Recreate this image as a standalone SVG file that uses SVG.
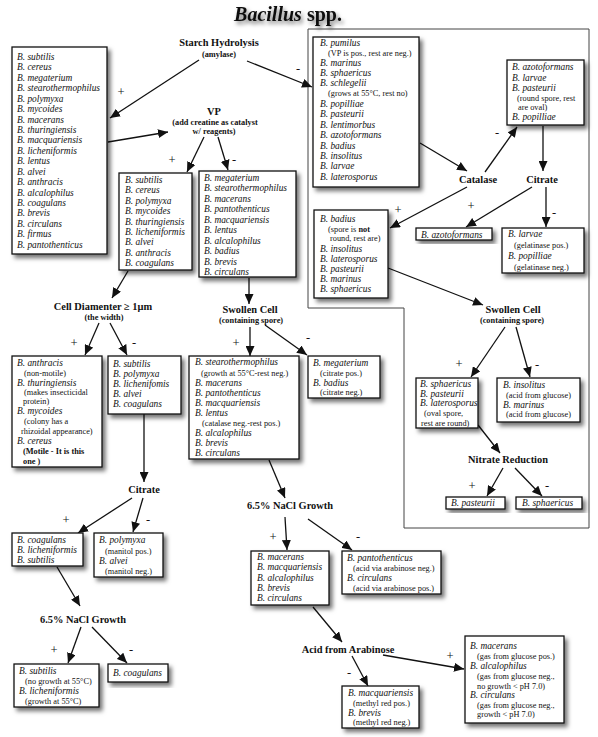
<svg xmlns="http://www.w3.org/2000/svg" width="598" height="737" viewBox="0 0 598 737">
<defs>
<filter id="sh" x="-20%" y="-20%" width="150%" height="150%"><feDropShadow dx="3" dy="3.5" stdDeviation="2" flood-color="#000" flood-opacity="0.55"/></filter>
<filter id="tsh" x="-20%" y="-50%" width="140%" height="220%"><feDropShadow dx="2" dy="3" stdDeviation="2" flood-color="#000" flood-opacity="0.55"/></filter>
<marker id="ah" markerUnits="userSpaceOnUse" markerWidth="11" markerHeight="9" refX="10" refY="4.5" orient="auto"><path d="M0,0 L10,4.5 L0,9 z" fill="#111"/></marker>
</defs>
<style>
text{font-family:"Liberation Serif",serif;fill:#111}
.sp{font-style:italic;font-size:9.4px}
.nt{font-size:8.3px;font-style:normal}
.nb{font-size:8.3px;font-weight:bold;font-style:normal}
.h{font-weight:bold;font-size:10.4px;text-anchor:middle}
.hs{font-weight:bold;font-size:8.3px;text-anchor:middle}
.box{fill:#fff;stroke:#111;stroke-width:1.3;filter:url(#sh)}
.lbl{font-size:12.5px;text-anchor:middle}
#connectors line{stroke:#111;stroke-width:1.3;marker-end:url(#ah)}
.frame{fill:none;stroke:#444;stroke-width:1}
</style>
<rect width="598" height="737" fill="#fff"/>
<text x="288" y="21" text-anchor="middle" font-size="20" font-weight="bold" filter="url(#tsh)"><tspan font-style="italic">Bacillus</tspan> spp.</text>
<polygon class="frame" points="308,29 589,29 589,528 404,528 404,308 308,308"/>

<g id="connectors">
<line x1="199" y1="60" x2="110" y2="118"/>
<line x1="247" y1="61" x2="312" y2="87"/>
<line x1="108" y1="142" x2="168" y2="132"/>
<line x1="204" y1="137" x2="187" y2="172"/>
<line x1="218" y1="137" x2="228" y2="170"/>
<line x1="420" y1="143" x2="467" y2="171"/>
<line x1="485" y1="172" x2="517" y2="127"/>
<line x1="543" y1="126" x2="543" y2="171"/>
<line x1="467" y1="187" x2="390" y2="228"/>
<line x1="532" y1="187" x2="466" y2="227"/>
<line x1="546" y1="187" x2="546" y2="227"/>
<line x1="388" y1="268" x2="483" y2="305"/>
<line x1="505" y1="327" x2="471" y2="377"/>
<line x1="516" y1="327" x2="530" y2="377"/>
<line x1="478" y1="425" x2="500" y2="453"/>
<line x1="503" y1="468" x2="487" y2="496"/>
<line x1="515" y1="468" x2="542" y2="496"/>
<line x1="128" y1="271" x2="112" y2="298"/>
<line x1="99" y1="323" x2="85" y2="355"/>
<line x1="110" y1="323" x2="127" y2="355"/>
<line x1="144" y1="414" x2="144" y2="482"/>
<line x1="132" y1="498" x2="78" y2="533"/>
<line x1="143" y1="498" x2="133" y2="532"/>
<line x1="57" y1="567" x2="80" y2="606"/>
<line x1="81" y1="627" x2="68" y2="663"/>
<line x1="92" y1="627" x2="127" y2="663"/>
<line x1="249" y1="278" x2="249" y2="304"/>
<line x1="250" y1="327" x2="250" y2="356"/>
<line x1="265" y1="325" x2="307" y2="355"/>
<line x1="269" y1="460" x2="285" y2="498"/>
<line x1="285" y1="517" x2="287" y2="550"/>
<line x1="308" y1="519" x2="352" y2="550"/>
<line x1="313" y1="607" x2="342" y2="642"/>
<line x1="352" y1="656" x2="368" y2="686"/>
<line x1="383" y1="655" x2="464" y2="669"/>
<text class="lbl" x="121" y="96">+</text>
<text class="lbl" x="298" y="73">-</text>
<text class="lbl" x="172" y="164">+</text>
<text class="lbl" x="234" y="164">-</text>
<text class="lbl" x="497" y="137">-</text>
<text class="lbl" x="398" y="214">+</text>
<text class="lbl" x="471" y="210">+</text>
<text class="lbl" x="554" y="217">-</text>
<text class="lbl" x="459" y="368">+</text>
<text class="lbl" x="537" y="369">-</text>
<text class="lbl" x="472" y="490">+</text>
<text class="lbl" x="547" y="490">-</text>
<text class="lbl" x="74" y="347">+</text>
<text class="lbl" x="134" y="347">-</text>
<text class="lbl" x="66" y="524">+</text>
<text class="lbl" x="148" y="524">-</text>
<text class="lbl" x="54" y="654">+</text>
<text class="lbl" x="131" y="654">-</text>
<text class="lbl" x="236" y="347">+</text>
<text class="lbl" x="308" y="342">-</text>
<text class="lbl" x="273" y="541">+</text>
<text class="lbl" x="358" y="541">-</text>
<text class="lbl" x="349" y="677">-</text>
<text class="lbl" x="450" y="660">+</text>
</g>

<g id="starch"><text class="h" x="219" y="46">Starch Hydrolysis</text><text class="hs" x="219" y="57">(amylase)</text></g>
<g id="vp"><text class="h" x="214" y="115" font-size="11.5">VP</text><text class="hs" x="215" y="125">(add creatine as catalyst</text><text class="hs" x="214" y="134">w/ reagents)</text></g>
<g id="catalase"><text class="h" x="478" y="183">Catalase</text></g>
<g id="citrate-r"><text class="h" x="542" y="183">Citrate</text></g>
<g id="swollen-r"><text class="h" x="513" y="313">Swollen Cell</text><text class="hs" x="512" y="323">(containing spore)</text></g>
<g id="nitrate"><text class="h" x="508" y="463">Nitrate Reduction</text></g>
<g id="celldiam"><text class="h" x="103" y="310">Cell Diamenter ≥ 1µm</text><text class="hs" x="104" y="320">(the width)</text></g>
<g id="citrate-l"><text class="h" x="144" y="493">Citrate</text></g>
<g id="nacl-l"><text class="h" x="83" y="623">6.5% NaCl Growth</text></g>
<g id="swollen-m"><text class="h" x="250" y="313">Swollen Cell</text><text class="hs" x="251" y="323">(containing spore)</text></g>
<g id="nacl-m"><text class="h" x="290" y="509">6.5% NaCl Growth</text></g>
<g id="arabinose"><text class="h" x="348" y="653">Acid from Arabinose</text></g>

<g id="box-all">
<rect class="box" x="12" y="47" width="95" height="207"/>
<text class="sp"><tspan x="17" y="60">B. subtilis</tspan><tspan x="17" dy="10.43">B. cereus</tspan><tspan x="17" dy="10.43">B. megaterium</tspan><tspan x="17" dy="10.43">B. stearothermophilus</tspan><tspan x="17" dy="10.43">B. polymyxa</tspan><tspan x="17" dy="10.43">B. mycoides</tspan><tspan x="17" dy="10.43">B. macerans</tspan><tspan x="17" dy="10.43">B. thuringiensis</tspan><tspan x="17" dy="10.43">B. macquariensis</tspan><tspan x="17" dy="10.43">B. licheniformis</tspan><tspan x="17" dy="10.43">B. lentus</tspan><tspan x="17" dy="10.43">B. alvei</tspan><tspan x="17" dy="10.43">B. anthracis</tspan><tspan x="17" dy="10.43">B. alcalophilus</tspan><tspan x="17" dy="10.43">B. coagulans</tspan><tspan x="17" dy="10.43">B. brevis</tspan><tspan x="17" dy="10.43">B. circulans</tspan><tspan x="17" dy="10.43">B. firmus</tspan><tspan x="17" dy="10.43">B. pantothenticus</tspan></text>
</g>

<g id="box-starch-neg">
<rect class="box" x="313" y="37" width="106" height="150"/>
<text class="sp" x="320" y="46">B. pumilus</text>
<text class="nt" x="328" y="56">(VP is pos., rest are neg.)</text>
<text class="sp" x="320" y="66">B. marinus</text>
<text class="sp" x="320" y="76">B. sphaericus</text>
<text class="sp" x="320" y="86">B. schlegelii</text>
<text class="nt" x="328" y="96">(grows at 55°C, rest no)</text>
<text class="sp"><tspan x="320" y="107">B. popilliae</tspan><tspan x="320" dy="10.4">B. pasteurii</tspan><tspan x="320" dy="10.4">B. lentimorbus</tspan><tspan x="320" dy="10.4">B. azotoformans</tspan><tspan x="320" dy="10.4">B. badius</tspan><tspan x="320" dy="10.4">B. insolitus</tspan><tspan x="320" dy="10.4">B. larvae</tspan><tspan x="320" dy="10.4">B. laterosporus</tspan></text>
</g>

<g id="box-vp-pos">
<rect class="box" x="119" y="173" width="73" height="97"/>
<text class="sp"><tspan x="125" y="183">B. subtilis</tspan><tspan x="125" dy="10.4">B. cereus</tspan><tspan x="125" dy="10.4">B. polymyxa</tspan><tspan x="125" dy="10.4">B. mycoides</tspan><tspan x="125" dy="10.4">B. thuringiensis</tspan><tspan x="125" dy="10.4">B. licheniformis</tspan><tspan x="125" dy="10.4">B. alvei</tspan><tspan x="125" dy="10.4">B. anthracis</tspan><tspan x="125" dy="10.4">B. coagulans</tspan></text>
</g>

<g id="box-vp-neg">
<rect class="box" x="199" y="171" width="97" height="106"/>
<text class="sp"><tspan x="204" y="180.5">B. megaterium</tspan><tspan x="204" dy="10.5">B. stearothermophilus</tspan><tspan x="204" dy="10.5">B. macerans</tspan><tspan x="204" dy="10.5">B. pantothenticus</tspan><tspan x="204" dy="10.5">B. macquariensis</tspan><tspan x="204" dy="10.5">B. lentus</tspan><tspan x="204" dy="10.5">B. alcalophilus</tspan><tspan x="204" dy="10.5">B. badius</tspan><tspan x="204" dy="10.5">B. brevis</tspan><tspan x="204" dy="10.5">B. circulans</tspan></text>
</g>

<g id="box-catalase-neg">
<rect class="box" x="507" y="60" width="77" height="65"/>
<text class="sp" x="512" y="70">B. azotoformans</text>
<text class="sp" x="512" y="81">B. larvae</text>
<text class="sp" x="512" y="91">B. pasteurii</text>
<text class="nt" x="517" y="101">(round spore, rest</text>
<text class="nt" x="518" y="110">are oval)</text>
<text class="sp" x="512" y="120">B. popilliae</text>
</g>

<g id="box-citrate-pos">
<rect class="box" x="416" y="228" width="76" height="12"/>
<text class="sp" x="421" y="237.5">B. azotoformans</text>
</g>

<g id="box-citrate-neg">
<rect class="box" x="502" y="228" width="82" height="45"/>
<text class="sp" x="508" y="237">B. larvae</text>
<text class="nt" x="514" y="248" font-size="9.3">(gelatinase pos.)</text>
<text class="sp" x="508" y="259">B. popilliae</text>
<text class="nt" x="514" y="270" font-size="9.3">(gelatinase neg.)</text>
</g>

<g id="box-catalase-pos">
<rect class="box" x="314" y="210" width="74" height="88"/>
<text class="sp" x="320" y="222">B. badius</text>
<text class="nt" x="328" y="232">(spore is <tspan font-weight="bold">not</tspan></text>
<text class="nt" x="330" y="241">round, rest are)</text>
<text class="sp"><tspan x="320" y="252">B. insolitus</tspan><tspan x="320" dy="10">B. laterosporus</tspan><tspan x="320" dy="10">B. pasteurii</tspan><tspan x="320" dy="10">B. marinus</tspan><tspan x="320" dy="10">B. sphaericus</tspan></text>
</g>

<g id="box-swollen-r-pos">
<rect class="box" x="416" y="378" width="62" height="50"/>
<text class="sp" x="420" y="386.5">B. sphaericus</text>
<text class="sp" x="420" y="396.5">B. pasteurii</text>
<text class="sp" x="420" y="406">B. laterosporus</text>
<text class="nt" x="424" y="416">(oval spore,</text>
<text class="nt" x="421" y="425.5">rest are round)</text>
</g>

<g id="box-swollen-r-neg">
<rect class="box" x="497" y="378" width="83" height="44"/>
<text class="sp" x="503" y="388">B. insolitus</text>
<text class="nt" x="506" y="397.5">(acid from glucose)</text>
<text class="sp" x="503" y="407.5">B. marinus</text>
<text class="nt" x="506" y="417">(acid from glucose)</text>
</g>

<g id="box-nitrate-pos">
<rect class="box" x="446" y="497" width="59" height="12"/>
<text class="sp" x="451" y="506.3">B. pasteurii</text>
</g>

<g id="box-nitrate-neg">
<rect class="box" x="516" y="497" width="66" height="12"/>
<text class="sp" x="522" y="506.3">B. sphaericus</text>
</g>

<g id="box-diam-pos">
<rect class="box" x="12" y="356" width="90" height="111"/>
<text class="sp" x="17" y="365.5">B. anthracis</text>
<text class="nt" x="24" y="375.5">(non-motile)</text>
<text class="sp" x="17" y="385.5">B. thuringiensis</text>
<text class="nt" x="24" y="395">(makes insecticidal</text>
<text class="nt" x="23" y="404">protein)</text>
<text class="sp" x="17" y="414">B. mycoides</text>
<text class="nt" x="24" y="424">(colony has a</text>
<text class="nt" x="21" y="434">rhizoidal appearance)</text>
<text class="sp" x="17" y="444">B. cereus</text>
<text class="nb" x="23" y="454">(Motile - It is this</text>
<text class="nb" x="23" y="464">one )</text>
</g>

<g id="box-diam-neg">
<rect class="box" x="108" y="356" width="73" height="58"/>
<text class="sp"><tspan x="113" y="367">B. subtilis</tspan><tspan x="113" dy="10">B. polymyxa</tspan><tspan x="113" dy="10">B. lichenifomis</tspan><tspan x="113" dy="10">B. alvei</tspan><tspan x="113" dy="10">B. coagulans</tspan></text>
</g>

<g id="box-citrate-l-pos">
<rect class="box" x="12" y="533" width="71" height="33"/>
<text class="sp"><tspan x="17" y="542.5">B. coagulans</tspan><tspan x="17" dy="10">B. licheniformis</tspan><tspan x="17" dy="10">B. subtilis</tspan></text>
</g>

<g id="box-citrate-l-neg">
<rect class="box" x="94" y="533" width="69" height="44"/>
<text class="sp" x="99" y="543">B. polymyxa</text>
<text class="nt" x="105" y="554">(manitol pos.)</text>
<text class="sp" x="99" y="563.5">B. alvei</text>
<text class="nt" x="105" y="573.5">(manitol neg.)</text>
</g>

<g id="box-nacl-l-pos">
<rect class="box" x="14" y="664" width="85" height="43"/>
<text class="sp" x="19" y="674">B. subtilis</text>
<text class="nt" x="25" y="684">(no growth at 55°C)</text>
<text class="sp" x="19" y="694">B. licheniformis</text>
<text class="nt" x="25" y="703.5">(growth at 55°C)</text>
</g>

<g id="box-nacl-l-neg">
<rect class="box" x="108" y="664" width="60" height="18"/>
<text class="sp" x="113" y="676">B. coagulans</text>
</g>

<g id="box-swollen-m-pos">
<rect class="box" x="189" y="356" width="110" height="103"/>
<text class="sp" x="195" y="365">B. stearothermophilus</text>
<text class="nt" x="201" y="376">(growth at 55°C-rest neg.)</text>
<text class="sp"><tspan x="195" y="385.5">B. macerans</tspan><tspan x="195" dy="10">B. pantothenticus</tspan><tspan x="195" dy="10">B. macquariensis</tspan><tspan x="195" dy="10.5">B. lentus</tspan></text>
<text class="nt" x="202" y="426">(catalase neg.-rest pos.)</text>
<text class="sp"><tspan x="195" y="435.5">B. alcalophilus</tspan><tspan x="195" dy="10.5">B. brevis</tspan><tspan x="195" dy="10">B. circulans</tspan></text>
</g>

<g id="box-swollen-m-neg">
<rect class="box" x="308" y="356" width="72" height="42"/>
<text class="sp" x="313" y="366">B. megaterium</text>
<text class="nt" x="320" y="376">(citrate pos.)</text>
<text class="sp" x="313" y="385.5">B. badius</text>
<text class="nt" x="320" y="395">(citrate neg.)</text>
</g>

<g id="box-nacl-m-pos">
<rect class="box" x="251" y="551" width="78" height="54"/>
<text class="sp"><tspan x="257" y="560">B. macerans</tspan><tspan x="257" dy="10.3">B. macquariensis</tspan><tspan x="257" dy="10.3">B. alcalophilus</tspan><tspan x="257" dy="10.3">B. brevis</tspan><tspan x="257" dy="10.3">B. circulans</tspan></text>
</g>

<g id="box-nacl-m-neg">
<rect class="box" x="342" y="551" width="99" height="43"/>
<text class="sp" x="347" y="560.5">B. pantothenticus</text>
<text class="nt" x="353" y="571">(acid via arabinose neg.)</text>
<text class="sp" x="347" y="581">B. circulans</text>
<text class="nt" x="353" y="591">(acid via arabinose pos.)</text>
</g>

<g id="box-arab-neg">
<rect class="box" x="342" y="686" width="77" height="42"/>
<text class="sp" x="348" y="696">B. macquariensis</text>
<text class="nt" x="353" y="706">(methyl red pos.)</text>
<text class="sp" x="348" y="715.5">B. brevis</text>
<text class="nt" x="353" y="725">(methyl red neg.)</text>
</g>

<g id="box-arab-pos">
<rect class="box" x="465" y="636" width="99" height="87"/>
<text class="sp" x="470" y="649">B. macerans</text>
<text class="nt" x="477" y="659">(gas from glucose pos.)</text>
<text class="sp" x="470" y="669">B. alcalophilus</text>
<text class="nt" x="477" y="679">(gas from glucose neg.,</text>
<text class="nt" x="477" y="688.5">no growth &lt; pH 7.0)</text>
<text class="sp" x="470" y="698">B. circulans</text>
<text class="nt" x="477" y="708">(gas from glucose neg.,</text>
<text class="nt" x="477" y="717">growth &lt; pH 7.0)</text>
</g>
</svg>
